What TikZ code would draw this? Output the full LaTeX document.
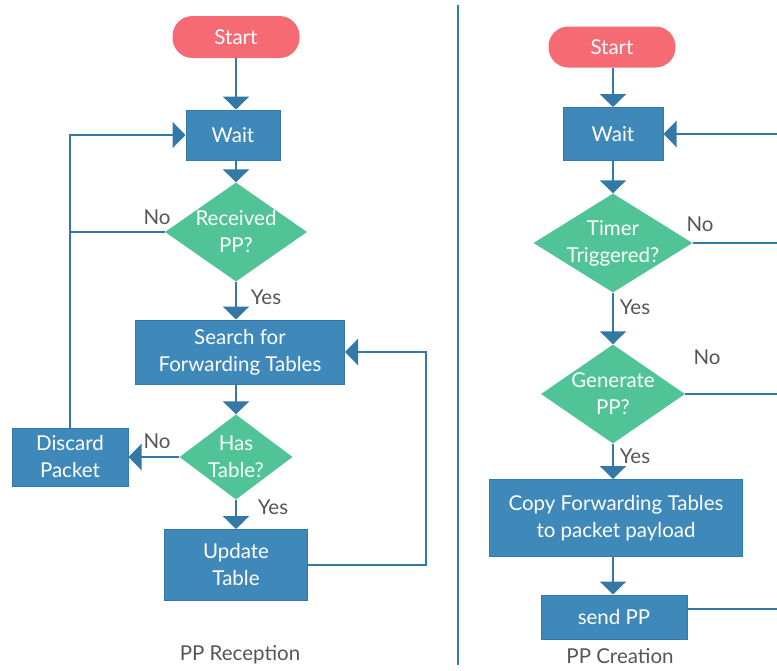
\documentclass[tikz,border=0pt]{standalone}
\usepackage{fontspec}
\setmainfont{Lato}
\usetikzlibrary{shapes.geometric,arrows.meta}
\definecolor{boxblue}{HTML}{3F88BA}
\definecolor{boxedge}{HTML}{3579A8}
\definecolor{diagreen}{HTML}{50C497}
\definecolor{startred}{HTML}{F66A74}
\definecolor{flowline}{HTML}{3478A8}
\definecolor{labelgray}{HTML}{555555}

\begin{document}
\begin{tikzpicture}[x=1pt,y=-1pt,font=\fontsize{20.5}{27}\selectfont,
  every node/.style={inner sep=0pt,align=center},
  startbox/.style={rectangle,rounded corners=20pt,fill=startred,text=white},
  procbox/.style={rectangle,fill=boxblue,draw=boxedge,line width=1pt,text=white},
  decision/.style={diamond,aspect=1.5,inner sep=-12pt,fill=diagreen,text=white},
  answer/.style={text=labelgray},
  flow/.style={draw=flowline,line width=2.6pt},
  arrow/.style={flow,-{Triangle[width=26pt,length=13pt]}}]
\useasboundingbox (0,0) rectangle (777,670);

\node [startbox,minimum width=127pt,minimum height=42pt] (startA) at (236,37) {Start};
\node [procbox,minimum width=94pt,minimum height=50pt] (waitA) at (233,135) {Wait};
\node [decision,minimum width=142pt,minimum height=99pt] (recv) at (236,232) {Received\\PP?};
\node [procbox,minimum width=209pt,minimum height=64pt] (search) at (240,352) {Search for\\Forwarding Tables};
\node [decision,minimum width=113pt,minimum height=85pt] (hastab) at (236,457) {Has\\Table?};
\node [procbox,minimum width=116pt,minimum height=58pt] (discard) at (70,457) {Discard\\Packet};
\node [procbox,minimum width=143pt,minimum height=71pt] (update) at (236,565) {Update\\Table};
\coordinate (loopA) at (426,0);

\draw [arrow] (startA.south) -- (startA.south |- waitA.north);
\draw [arrow] (startA.south |- waitA.south) -- (recv.north);
\draw [arrow] (recv.south) -- (recv.south |- search.north);
\draw [arrow] (recv.south |- search.south) -- (hastab.north);
\draw [arrow] (hastab.west) -- (discard.east);
\draw [arrow] (hastab.south) -- (update.north);
\draw [arrow] (update.east) -| (loopA |- search.east) -- (search.east);
\draw [arrow] (discard.north) |- (waitA.west);
\draw [flow] (recv.west) -- (recv.west -| discard.north);

\node [answer] (noA1) at (157,217) {No};
\node [answer] (yesA1) at (266,297) {Yes};
\node [answer] (noA2) at (157,441) {No};
\node [answer] (yesA2) at (273,507) {Yes};
\node [answer] (titleA) at (240,655) {PP Reception};

\draw [flow] (458,5) -- (458,665);

\node [startbox,minimum width=127pt,minimum height=41pt] (startB) at (612,47) {Start};
\node [procbox,minimum width=100pt,minimum height=53pt] (waitB) at (613,134) {Wait};
\node [decision,minimum width=159pt,minimum height=99pt] (timer) at (613,243) {Timer\\Triggered?};
\node [decision,minimum width=144pt,minimum height=99pt] (gen) at (613,394) {Generate\\PP?};
\node [procbox,minimum width=253pt,minimum height=77pt] (copy) at (616,518) {Copy Forwarding Tables\\to packet payload};
\node [procbox,minimum width=146pt,minimum height=44pt] (send) at (614,617) {send PP};
\coordinate (edgeW) at (777,134);
\coordinate (edgeS) at (777,609);

\draw [arrow] (startB.south -| waitB) -- (waitB.north);
\draw [arrow] (waitB.south) -- (timer.north);
\draw [arrow] (timer.south) -- (gen.north);
\draw [arrow] (gen.south) -- (gen.south |- copy.north);
\draw [arrow] (gen.south |- copy.south) -- (send.north -| gen.south);
\draw [arrow] (edgeW |- waitB.east) -- (waitB.east);
\draw [flow] (timer.east) -- (timer.east -| edgeW);
\draw [flow] (gen.east) -- (gen.east -| edgeW);
\draw [flow] (send.east |- edgeS) -- (edgeS);

\node [answer] (noB1) at (700,224) {No};
\node [answer] (yesB1) at (635,307) {Yes};
\node [answer] (noB2) at (707,357) {No};
\node [answer] (yesB2) at (635,456) {Yes};
\node [answer] (titleB) at (620,656) {PP Creation};
\end{tikzpicture}
\end{document}
